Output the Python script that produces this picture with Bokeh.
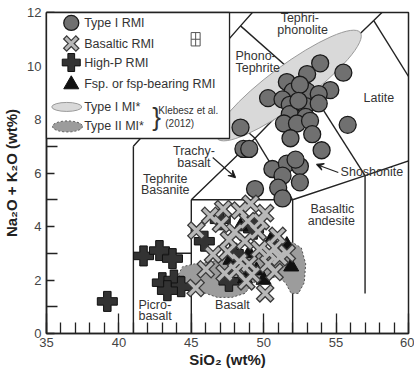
from bokeh.plotting import figure
from bokeh.models import Range1d, FixedTicker, Arrow, VeeHead
from bokeh.core.properties import value
from bokeh.embed import file_html
from bokeh.resources import INLINE

# ---------------- data ----------------
# Type I RMI (SiO2, Na2O+K2O)
type1_sio2 = [53.9, 55.5, 53.0, 51.6, 54.6, 52.0, 53.0, 53.8, 50.3, 51.3, 51.8, 52.9,
              53.8, 51.8, 52.9, 51.4, 52.3, 53.2, 48.4, 55.8, 48.6, 49.0, 51.85, 53.35,
              54.0, 50.6, 51.6, 52.5, 51.3, 52.5, 51.0, 51.3, 49.4, 52.2, 52.5, 52.4]
type1_alk = [10.1, 9.75, 9.7, 9.4, 9.1, 9.05, 9.05, 8.95, 8.8, 8.75, 8.55, 8.5,
             8.6, 8.2, 8.1, 7.85, 7.85, 7.95, 7.7, 7.8, 6.9, 6.9, 7.3, 7.45,
             6.85, 6.15, 6.35, 6.25, 5.9, 5.65, 5.45, 5.05, 5.4, 6.5, 9.3, 8.7]

# Basaltic RMI
basaltic_sio2 = [45.35, 47.2, 48.35, 49.1, 50.1, 48.9, 47.05, 49.6, 50.95, 50.75, 51.6, 48.7,
                 49.7, 46.5, 48.3, 50.3, 45.3, 47.3, 48.1, 50.1, 51.1, 50.75, 48.0, 49.2,
                 46.3, 49.8, 47.6, 46.0, 48.8, 50.4, 47.5, 49.0]
basaltic_alk = [3.85, 4.65, 4.6, 4.85, 4.5, 4.2, 4.1, 3.8, 3.65, 3.2, 3.0, 3.45,
                3.15, 2.95, 2.7, 2.6, 1.7, 2.25, 2.35, 1.5, 2.85, 2.3, 3.8, 2.2,
                4.4, 4.2, 3.5, 2.4, 1.95, 3.0, 3.05, 2.6]

# High-P RMI
highp_sio2 = [39.2, 41.7, 42.8, 43.7, 43.0, 43.8, 44.3, 43.35, 47.0, 45.9, 49.3, 47.9, 47.6]
highp_alk = [1.2, 2.9, 3.1, 2.8, 1.9, 2.0, 1.75, 1.6, 4.25, 3.45, 3.9, 3.0, 1.95]

# Fsp. or fsp-bearing RMI
fsp_sio2 = [51.6, 51.9, 49.5, 48.7, 50.5, 47.7, 49.0, 50.0, 48.4]
fsp_alk = [3.3, 2.5, 2.35, 2.05, 3.5, 2.75, 3.0, 2.0, 4.0]

# Klebesz et al. (2012) fields
mi1_center_sio2 = 51.73
mi1_center_alk = 9.27
mi2_sio2 = [44.1, 44.4, 45.2, 46.5, 48.0, 49.5, 51.0, 52.0, 52.6, 52.9, 52.8, 52.4, 51.9,
            51.5, 51.0, 50.0, 49.3, 48.7, 47.8, 46.8, 46.0, 45.3, 44.6]
mi2_alk = [2.2, 2.5, 2.6, 2.7, 2.9, 3.0, 3.2, 3.4, 3.2, 2.6, 1.9, 1.5, 1.5,
           1.9, 2.1, 2.1, 1.9, 1.5, 1.35, 1.35, 1.5, 1.7, 1.9]

# TAS field boundaries (Le Bas et al., 1986)
tas_x = [[41, 41], [41, 45, 48.4, 52.5], [45, 45], [41, 45], [45, 52],
         [45, 49.4, 53, 57.6, 61], [45, 49.4], [48.4, 53], [49.4, 52],
         [52, 52, 57, 63], [53, 57], [57.6, 63], [57, 57]]
tas_y = [[0, 7], [7, 9.4, 11.5, 14], [0, 5], [3, 3], [5, 5],
         [5, 7.3, 9.3, 11.7, 13.5], [9.4, 7.3], [11.5, 9.3], [7.3, 5],
         [0, 5, 5.9, 7], [9.3, 5.9], [11.7, 7], [1.5, 5.9]]

x_ticks = [35, 40, 45, 50, 55, 60]
y_ticks = [0, 2, 4, 6, 8, 10, 12]

# field names
field_text = ["Tephri-", "phonolite", "Phono-", "Tephrite", "Latite", "Trachy-", "basalt",
              "Tephrite", "Basanite", "Shoshonite", "Basaltic", "andesite", "Basalt",
              "Picro-", "basalt"]
field_x = [52.49, 52.69, 48.05, 48.05, 57.95, 45.18, 45.18, 43.2, 43.2, 57.47, 54.74, 54.67,
           47.84, 41.35, 41.35]
field_y = [11.81, 11.33, 10.36, 9.94, 8.79, 6.84, 6.39, 5.79, 5.35, 6.02, 4.67, 4.22,
           1.05, 1.08, 0.67]
field_align = ["center", "center", "left", "left", "center", "center", "center",
               "center", "center", "center", "center", "center", "center", "left", "left"]

FONT = "Liberation Sans"
TXT = "#333333"

# ---------------- figure ----------------
p = figure(width=414, height=371, x_range=Range1d(35, 60), y_range=Range1d(0, 12),
           output_backend="svg", toolbar_location=None,
           min_border_left=42, min_border_right=6, min_border_top=12, min_border_bottom=38)
p.grid.visible = False
p.background_fill_color = "white"
p.border_fill_color = "white"
p.outline_line_color = "#222222"
p.outline_line_width = 1.5

p.xaxis.ticker = FixedTicker(ticks=x_ticks, minor_ticks=list(range(35, 61)))
p.yaxis.ticker = FixedTicker(ticks=y_ticks, minor_ticks=[1, 3, 5, 7, 9, 11])
for ax in (p.xaxis, p.yaxis):
    ax.major_tick_out = 0
    ax.minor_tick_out = 0
    ax.axis_line_color = "#222222"
    ax.axis_line_width = 1.5
    ax.major_tick_line_color = "#222222"
    ax.minor_tick_line_color = "#222222"
    ax.major_tick_line_width = 1.3
    ax.minor_tick_line_width = 1.3
    ax.major_label_text_font = FONT
    ax.major_label_text_font_size = "13px"
    ax.major_label_text_color = "#444444"
    ax.axis_label_text_font = FONT
    ax.axis_label_text_font_size = "15px"
    ax.axis_label_text_font_style = "bold"
    ax.axis_label_text_color = "#222222"
p.xaxis.major_tick_in = 20
p.xaxis.minor_tick_in = 11
p.yaxis.major_tick_in = 8
p.yaxis.minor_tick_in = 11
p.xaxis.major_label_standoff = 4
p.yaxis.major_label_standoff = 5
p.xaxis.axis_label_standoff = 1
p.yaxis.axis_label_standoff = 4
p.xaxis.axis_label = "SiO₂ (wt%)"
p.yaxis.axis_label = "Na₂O + K₂O (wt%)"

# TAS boundaries
p.multi_line(xs=tas_x, ys=tas_y, line_color="#222222", line_width=1.4)

# Klebesz et al. fields
p.ellipse(x=[mi1_center_sio2], y=[mi1_center_alk], width=178, height=40,
          width_units="screen", height_units="screen", angle=0.637,
          fill_color="#d9d9d9", line_color="#9a9a9a", line_width=1)
p.patch(x=mi2_sio2, y=mi2_alk, fill_color="#9c9c9c", line_color="#555555",
        line_dash="2 2", line_width=1)

# field labels
p.text(x=field_x, y=field_y, text=field_text, text_align=field_align,
       text_baseline="middle", text_font=value(FONT), text_font_size="12.5px",
       text_color=TXT)

p.add_layout(Arrow(x_start=46.48, y_start=6.58, x_end=48.05, y_end=5.83,
                   line_color="#222222", line_width=1.2,
                   end=VeeHead(size=7, line_color="#222222", line_width=1.2)))
p.add_layout(Arrow(x_start=55.15, y_start=6.02, x_end=53.65, y_end=6.32,
                   line_color="#222222", line_width=1.2,
                   end=VeeHead(size=7, line_color="#222222", line_width=1.2)))

# data markers
p.scatter(type1_sio2, type1_alk, marker="circle", size=17, fill_color="#707070",
          line_color="#1a1a1a", line_width=1.3)
p.scatter(highp_sio2, highp_alk, marker="plus", size=20, fill_color="#333333",
          line_color="#111111", line_width=1)
p.scatter(fsp_sio2, fsp_alk, marker="triangle", size=15, fill_color="#111111",
          line_color="#111111")
p.scatter(basaltic_sio2, basaltic_alk, marker="x", size=15, line_color="#3a3a3a",
          line_width=6, line_cap="square")
p.scatter(basaltic_sio2, basaltic_alk, marker="x", size=15, line_color="#b8b8b8",
          line_width=3.4, line_cap="square")

# ---------------- legend (drawn on top) ----------------
L = "overlay"
p.quad(left=35, right=47.64, top=12, bottom=7.29, fill_color="white",
       line_color="#222222", line_width=1.3, level=L)
leg_x = 36.71
leg_rows = [11.61, 10.84, 10.13, 9.31, 8.47, 7.74]
p.scatter([leg_x], [leg_rows[0]], marker="circle", size=15, fill_color="#707070",
          line_color="#1a1a1a", line_width=1.3, level=L)
p.scatter([leg_x], [leg_rows[1]], marker="x", size=13, line_color="#3a3a3a",
          line_width=5.5, line_cap="square", level=L)
p.scatter([leg_x], [leg_rows[1]], marker="x", size=13, line_color="#b8b8b8",
          line_width=3, line_cap="square", level=L)
p.scatter([leg_x], [leg_rows[2]], marker="plus", size=18, fill_color="#333333",
          line_color="#111111", level=L)
p.scatter([leg_x], [leg_rows[3]], marker="triangle", size=15, fill_color="#111111",
          line_color="#111111", level=L)
p.ellipse(x=[36.4], y=[leg_rows[4]], width=30, height=9, width_units="screen",
          height_units="screen", fill_color="#d9d9d9", line_color="#9a9a9a", level=L)
p.ellipse(x=[36.45], y=[leg_rows[5]], width=30, height=11, width_units="screen",
          height_units="screen", fill_color="#9c9c9c", line_color="#555555",
          line_dash="2 2", level=L)
p.text(x=[37.6] * 6, y=leg_rows,
       text=["Type I RMI", "Basaltic RMI", "High-P RMI", "Fsp. or fsp-bearing RMI",
             "Type I MI*", "Type II MI*"],
       text_baseline="middle", text_font=value(FONT), text_font_size="12.5px",
       text_color=TXT, level=L)
p.text(x=[42.3], y=[8.08], text=["}"], text_baseline="middle", text_font=value(FONT),
       text_font_size="26px", text_color=TXT, level=L)
p.text(x=[42.72, 44.2], y=[8.32, 7.86], text=["Klebesz et al.", "(2012)"],
       text_align=["left", "center"], text_baseline="middle", text_font=value(FONT),
       text_font_size="10px", text_color=TXT, level=L)
# analytical uncertainty symbol
p.rect(x=[45.3], y=[11.0], width=0.62, height=0.5, fill_alpha=0, line_color="#555555",
       line_width=1, level=L)
p.segment(x0=[44.99, 45.3], y0=[11.0, 10.75], x1=[45.61, 45.3], y1=[11.0, 11.25],
          line_color="#555555", line_width=1, level=L)

open("out.html", "w").write(file_html(p, INLINE))
